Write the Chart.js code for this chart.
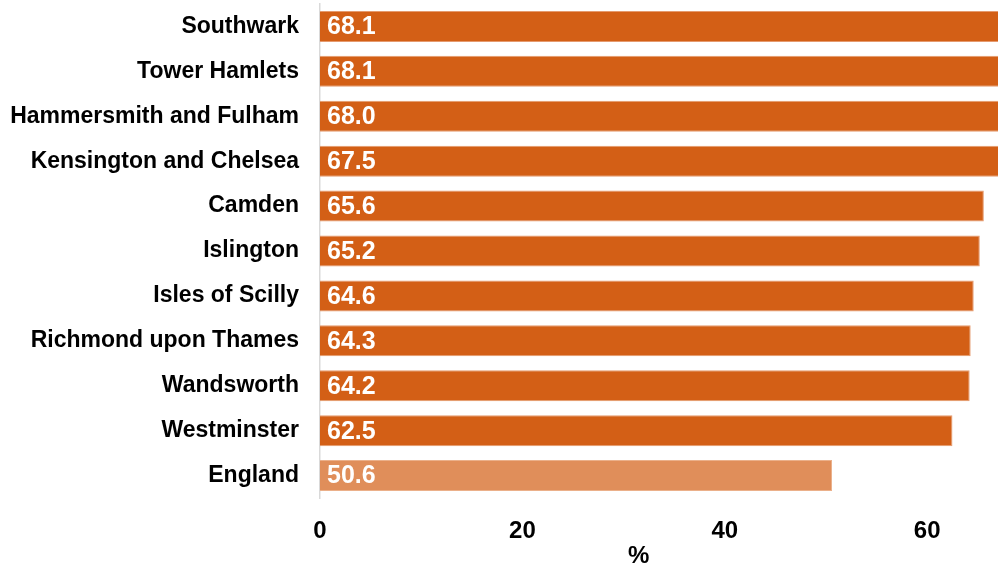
<!DOCTYPE html>
<html>
<head>
<meta charset="utf-8">
<script src="https://cdn.jsdelivr.net/npm/chart.js@4.4.0/dist/chart.umd.min.js"></script>
<style>
  html, body { margin: 0; padding: 0; background: #fff; }
  #wrap { width: 998px; height: 567px; }
</style>
</head>
<body>
<div id="wrap"><canvas id="chart"></canvas></div>
<script>
// Areas and their percentages
const areas = [
  'Southwark', 'Tower Hamlets', 'Hammersmith and Fulham', 'Kensington and Chelsea',
  'Camden', 'Islington', 'Isles of Scilly', 'Richmond upon Thames',
  'Wandsworth', 'Westminster', 'England'
];
const values = [68.1, 68.1, 68.0, 67.5, 65.6, 65.2, 64.6, 64.3, 64.2, 62.5, 50.6];
const xTicks = [0, 20, 40, 60];
const xTitle = '%';

const FONT = 'Liberation Sans, Arial, sans-serif';

const barColors = areas.map(a => a === 'England' ? '#E08E5A' : '#D35F16');
const edgeColors = areas.map(a => a === 'England' ? '#EBB08A' : '#E59A6E');

// white value labels inside each bar, plus the "%" axis title
const valueLabels = {
  id: 'valueLabels',
  afterDatasetsDraw(chart) {
    const ctx = chart.ctx;
    const meta = chart.getDatasetMeta(0);
    const xs = chart.scales.x;
    const x0 = xs.getPixelForValue(0);
    ctx.save();
    ctx.fillStyle = '#ffffff';
    ctx.font = 'bold 25px ' + FONT;
    ctx.textAlign = 'left';
    ctx.textBaseline = 'middle';
    meta.data.forEach((bar, i) => {
      ctx.fillText(values[i].toFixed(1), x0 + 7, bar.y + 1);
    });
    // title sits a bit left of the plot centre in the original
    ctx.fillStyle = '#000';
    ctx.font = 'bold 24px ' + FONT;
    ctx.textAlign = 'center';
    ctx.fillText(xTitle, xs.getPixelForValue(31.5), 556);
    ctx.restore();
  }
};

new Chart(document.getElementById('chart'), {
  type: 'bar',
  data: {
    labels: areas,
    datasets: [{
      data: values,
      backgroundColor: barColors,
      borderColor: edgeColors,
      borderWidth: 1,
      borderSkipped: 'start',
      categoryPercentage: 0.69,
      barPercentage: 1.0
    }]
  },
  options: {
    indexAxis: 'y',
    responsive: true,
    maintainAspectRatio: false,
    animation: false,
    layout: { padding: { top: 4, right: 0, bottom: 0, left: 0 } },
    plugins: {
      legend: { display: false },
      tooltip: { enabled: false }
    },
    scales: {
      x: {
        min: 0,
        max: 67,
        afterBuildTicks: scale => { scale.ticks = xTicks.map(v => ({ value: v })); },
        afterFit: scale => { scale.height = 69; },
        grid: { display: false, drawTicks: false },
        border: { display: false },
        ticks: {
          color: '#000',
          padding: 19,
          maxRotation: 0,
          font: { family: FONT, size: 24, weight: 'bold' }
        }
      },
      y: {
        afterFit: scale => {
          scale.width = 320;
          // label padding otherwise pushes the plot down
          scale.paddingTop = 0;
          scale.paddingBottom = 0;
        },
        grid: { display: false, drawTicks: false },
        border: { display: true, color: '#d9d9d9', width: 1.5 },
        ticks: {
          color: '#000',
          padding: 21,
          autoSkip: false,
          font: { family: FONT, size: 23, weight: 'bold' }
        }
      }
    }
  },
  plugins: [valueLabels]
});
</script>
</body>
</html>
